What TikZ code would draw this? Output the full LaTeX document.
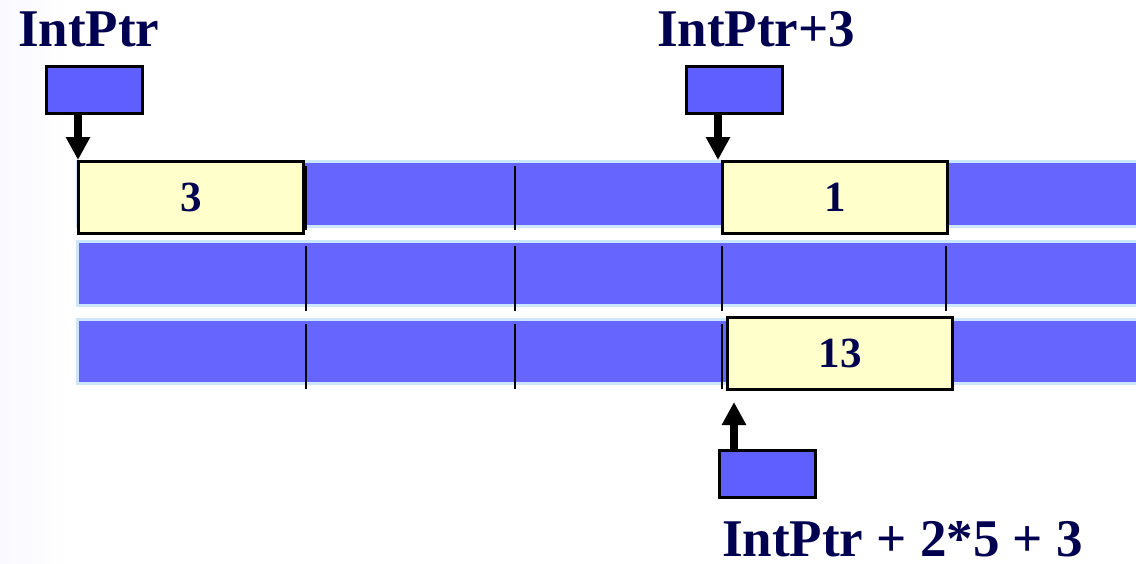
\documentclass[tikz,border=0pt]{standalone}
\usepackage{fontspec}
\setmainfont{Liberation Serif}
\usetikzlibrary{arrows.meta}
\definecolor{barblue}{HTML}{6666FF}
\definecolor{barrim}{HTML}{CCE6FF}
\definecolor{ptrblue}{HTML}{5F5FFF}
\definecolor{cellyellow}{HTML}{FFFFCC}
\definecolor{navy}{HTML}{000050}
\begin{document}
\begin{tikzpicture}[x=1pt,y=-1pt,
  bar/.style={fill=barblue,draw=barrim,line width=3pt},
  divider/.style={line width=2.6pt,black},
  cell/.style={fill=cellyellow,draw=black,line width=3pt,inner sep=0pt,outer sep=0pt,
    minimum width=225pt,minimum height=72pt,
    font=\fontsize{43}{43}\selectfont\bfseries,text=navy},
  ptrbox/.style={fill=ptrblue,draw=black,line width=3pt,inner sep=0pt,outer sep=0pt,
    minimum width=96pt,minimum height=47pt},
  label/.style={font=\fontsize{53}{53}\selectfont\bfseries,text=navy,inner sep=0pt},
  ptrarrow/.style={line width=8pt,-{Triangle[width=23pt,length=23pt]}}]
\useasboundingbox (0,0) rectangle (1136,563);
\shade[left color=blue!2.5,right color=white] (0,0) rectangle (68,563);

% memory rows
\draw[bar] (77,161) rectangle (1145,226);
\draw[bar] (77,241) rectangle (1145,305);
\draw[bar] (77,319) rectangle (1145,383);

% cell boundaries
\foreach \x in {306,515} \draw[divider] (\x,166) -- (\x,230);
\foreach \x in {306,515,722,946} \draw[divider] (\x,246) -- (\x,311);
\foreach \x in {306,515,722} \draw[divider] (\x,324) -- (\x,389);

% highlighted cells
\node[cell,anchor=north west] (c1) at (78.5,161.5) {3};
\node[cell,anchor=north west] (c2) at (722.5,161.5) {1};
\node[cell,anchor=north west] (c3) at (727.5,317.5) {13};

% pointer variables
\node[ptrbox,anchor=north west] (p1) at (46,66) {};
\node[ptrbox,anchor=north west] (p2) at (686,66) {};
\node[ptrbox,anchor=north west] (p3) at (719,450) {};

\coordinate (t1) at (78,160);
\coordinate (t2) at (718,160);
\coordinate (t3) at (734,402);
\draw[ptrarrow] (p1.south -| t1) -- (t1);
\draw[ptrarrow] (p2.south -| t2) -- (t2);
\draw[ptrarrow] (p3.north -| t3) -- (t3);

% labels
\node[label,anchor=base west] (l1) at (18,46) {IntPtr};
\node[label,anchor=base west] (l2) at (657,46) {IntPtr+3};
\node[label,anchor=base west] (l3) at (722,556) {IntPtr + 2*5 + 3};
\end{tikzpicture}
\end{document}
